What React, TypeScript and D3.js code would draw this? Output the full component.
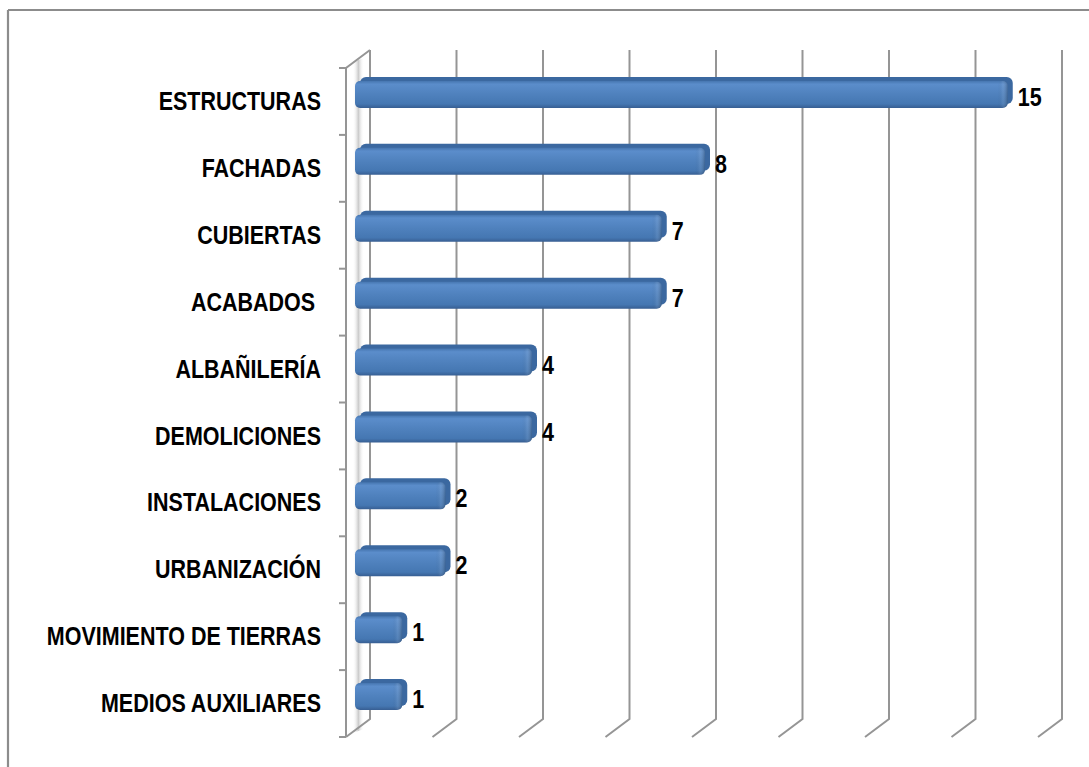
import React from "react";
import * as d3 from "d3";

const categories = [
  "ESTRUCTURAS",
  "FACHADAS",
  "CUBIERTAS",
  "ACABADOS ",
  "ALBAÑILERÍA",
  "DEMOLICIONES",
  "INSTALACIONES",
  "URBANIZACIÓN",
  "MOVIMIENTO DE TIERRAS",
  "MEDIOS AUXILIARES",
];
const values = [15, 8, 7, 7, 4, 4, 2, 2, 1, 1];
const gridTicks = [0, 2, 4, 6, 8, 10, 12, 14, 16];

const W = 1089;
const H = 767;
const backLeft = 370;
const backRight = 1062;
const backTop = 50;
const backBottom = 719;
const DX = -24; // depth offset to front plane
const DY = 18;
const barDX = -11;
const barDY = 11;
const barH = 27;

export default function App() {
  const x = d3.scaleLinear().domain([0, 16]).range([backLeft, backRight]);
  const y = d3.scaleBand<string>().domain(categories).range([backTop, backBottom]);
  const bw = y.bandwidth();
  const font = "'Liberation Sans', Arial, sans-serif";
  const grid = "#959595";
  const labelX = 321;

  return (
    <svg
      width={W}
      height={H}
      style={{ position: "absolute", left: 0, top: 0, background: "#fff" }}
    >
      <defs>
        <linearGradient id="face" x1="0" y1="0" x2="0" y2="1">
          <stop offset="0" stopColor="#4676b0" />
          <stop offset="0.12" stopColor="#5b8dcb" />
          <stop offset="0.5" stopColor="#4f81bd" />
          <stop offset="0.85" stopColor="#4577b2" />
          <stop offset="1" stopColor="#375e92" />
        </linearGradient>
        <linearGradient id="endcap" x1="0" y1="0" x2="1" y2="0">
          <stop offset="0" stopColor="#000" stopOpacity="0" />
          <stop offset="0.5" stopColor="#fff" stopOpacity="0.08" />
          <stop offset="1" stopColor="#000" stopOpacity="0.22" />
        </linearGradient>
        <linearGradient id="wall" x1="0" y1="0" x2="1" y2="0">
          <stop offset="0" stopColor="#fff" stopOpacity="0" />
          <stop offset="0.5" stopColor="#bdbdbd" stopOpacity="0.8" />
          <stop offset="1" stopColor="#fff" stopOpacity="0" />
        </linearGradient>
      </defs>

      {/* outer border */}
      <line x1={8} y1={10} x2={W} y2={10} stroke="#8c8c8c" strokeWidth={2.2} />
      <line x1={8} y1={10} x2={8} y2={H} stroke="#8c8c8c" strokeWidth={2.2} />

      {/* side wall shading */}
      <polygon
        points={`${backLeft + DX * 0.72},${backTop + 12} ${backLeft + DX * 0.25},${backTop + 8} ${backLeft + DX * 0.25},${backBottom + 10} ${backLeft + DX * 0.72},${backBottom + 14}`}
        fill="url(#wall)"
      />

      {/* gridlines */}
      {gridTicks.map((t) => (
        <path
          key={t}
          d={`M${x(t)},${backTop}V${backBottom}L${x(t) + DX},${backBottom + DY}`}
          fill="none"
          stroke={grid}
          strokeWidth={2}
        />
      ))}
      {/* side wall / category axis */}
      <path
        d={`M${x(0)},${backTop}L${x(0) + DX},${backTop + DY}V${backBottom + DY}`}
        fill="none"
        stroke={grid}
        strokeWidth={2}
      />
      {d3.range(categories.length + 1).map((i) => {
        const yy = backTop + DY + i * bw;
        return (
          <line
            key={i}
            x1={x(0) + DX - 7}
            x2={x(0) + DX}
            y1={yy}
            y2={yy}
            stroke={grid}
            strokeWidth={2}
          />
        );
      })}

      {/* bars */}
      {categories.map((c, i) => {
        const v = values[i];
        const cy = (y(c) as number) + bw / 2 + barDY;
        const x0 = x(0) + barDX - 4;
        const x1 = x(v) + barDX;
        const top = cy - barH / 2;
        const lx = x1 + 10;
        return (
          <g key={c}>
            <rect
              x={x0 + 5}
              y={top - 4}
              width={x1 - x0}
              height={barH}
              rx={6}
              fill="#3b68a0"
            />
            <rect x={x0} y={top} width={x1 - x0} height={barH} rx={5} fill="url(#face)" />
            <rect
              x={x1 - 10}
              y={top}
              width={10}
              height={barH}
              rx={5}
              fill="url(#endcap)"
            />
            <text
              x={lx}
              y={cy + 3}
              dominantBaseline="central"
              fontFamily={font}
              fontWeight="bold"
              fontSize={25}
              fill="#000"
              transform={`translate(${lx},0) scale(0.86,1) translate(${-lx},0)`}
            >
              {v}
            </text>
          </g>
        );
      })}

      {/* category labels */}
      {categories.map((c) => (
        <text
          key={c}
          x={labelX}
          y={(y(c) as number) + bw / 2 + DY}
          textAnchor="end"
          dominantBaseline="central"
          fontFamily={font}
          fontWeight="bold"
          fontSize={25}
          fill="#000"
          style={{ whiteSpace: "pre" }}
          transform={`translate(${labelX},0) scale(0.86,1) translate(${-labelX},0)`}
        >
          {c}
        </text>
      ))}
    </svg>
  );
}
